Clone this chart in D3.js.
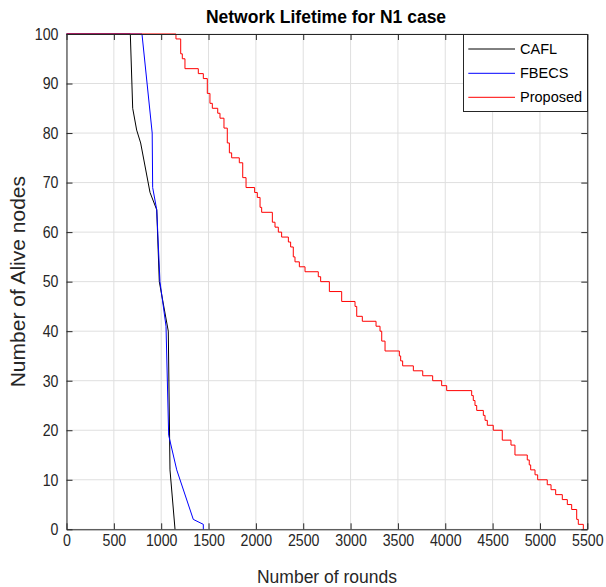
<!DOCTYPE html>
<html>
<head>
<meta charset="utf-8">
<script src="https://cdn.jsdelivr.net/npm/d3@7/dist/d3.min.js"></script>
<style>
  html, body { margin: 0; padding: 0; background: #fff; }
  svg { display: block; font-family: "Liberation Sans", Arial, Helvetica, sans-serif; }
</style>
</head>
<body>
<svg id="chart" width="606" height="587"></svg>
<script>
// ---- data ----
const seriesNames = ["CAFL", "FBECS", "Proposed"];
const seriesColors = ["#000000", "#0000ff", "#ff0000"];

// [round, alive nodes]
const caflData = [[0,100],[674,100],[699,85],[741,80.6],[783,78],[882,68],[953,64.5],[980,50],[1075,40],[1093,12],[1146,0]];
const fbecsData = [[0,100],[797,100],[905,80],[910,69],[953,64.5],[987,50],[1051,41],[1079,19],[1164,12],[1339,2],[1445,1],[1445,0]];
// staircase: value holds from this round until the next entry
const proposedData = [[0,100],[1156,99],[1206,96],[1223,95],[1251,93],[1392,92],[1445,91],[1487,88],[1515,86],[1540,85],[1597,84],[1621,83],[1663,81],[1698,78],[1720,76],[1744,75],[1825,74],[1861,71],[1896,69],[1987,68],[2015,67],[2044,65],[2061,64],[2174,62],[2202,61],[2237,60],[2272,59],[2343,58],[2367,57],[2395,55],[2413,54],[2459,53],[2519,52],[2659,51],[2684,50],[2776,48],[2906,46],[3047,45],[3065,43],[3124,42],[3269,41],[3311,40],[3329,38],[3364,36],[3515,35],[3529,34],[3550,33],[3663,32],[3762,31],[3867,30],[3962,29],[4015,28],[4279,27],[4296,26],[4314,25],[4332,24],[4402,23],[4420,22],[4444,21],[4507,20],[4602,18],[4694,17],[4736,15],[4866,14],[4887,13],[4902,12],[4948,11],[4976,10],[5077,9],[5117,8],[5166,7],[5236,6],[5289,5],[5335,4],[5388,2],[5405,1],[5458,0]];

const xTicks = [0,500,1000,1500,2000,2500,3000,3500,4000,4500,5000,5500];
const yTicks = [0,10,20,30,40,50,60,70,80,90,100];

const titleText = "Network Lifetime for N1 case";
const xLabelText = "Number of rounds";
const yLabelText = "Number of Alive nodes";

// ---- layout ----
const svg = d3.select("#chart");
const L = 66.5, R = 587.3, T = 34, B = 529.3;
const axisColor = "#262626";
const sx = 0.86; // horizontal squeeze of tick labels

const x = d3.scaleLinear().domain([0, 5500]).range([L, R]);
const y = d3.scaleLinear().domain([0, 100]).range([B, T]);

// grid
const grid = svg.append("g");
grid.selectAll("line.gx").data(xTicks).join("line")
  .attr("x1", d => x(d)).attr("x2", d => x(d)).attr("y1", T).attr("y2", B)
  .attr("stroke", "#dfdfdf").attr("stroke-width", 1);
grid.selectAll("line.gy").data(yTicks).join("line")
  .attr("y1", d => y(d)).attr("y2", d => y(d)).attr("x1", L).attr("x2", R)
  .attr("stroke", "#dfdfdf").attr("stroke-width", 1);

// series
const linear = d3.line().x(d => x(d[0])).y(d => y(d[1]));
const stepped = d3.line().x(d => x(d[0])).y(d => y(d[1])).curve(d3.curveStepAfter);
const lines = svg.append("g").attr("fill", "none");
lines.append("path").attr("d", linear(caflData)).attr("stroke", seriesColors[0]).attr("stroke-width", 1);
lines.append("path").attr("d", linear(fbecsData)).attr("stroke", seriesColors[1]).attr("stroke-width", 1);
lines.append("path").attr("d", stepped(proposedData)).attr("stroke", seriesColors[2]).attr("stroke-width", 1);

// axes (ticks inward, box)
const tickLen = 6;
function styleAxis(g) {
  g.selectAll(".domain").attr("stroke", axisColor);
  g.selectAll(".tick line").attr("stroke", axisColor);
  g.selectAll(".tick text").attr("fill", axisColor).attr("font-size", "16.5px");
}
const xAxis = svg.append("g").attr("transform", `translate(0,${B})`)
  .call(d3.axisBottom(x).tickValues(xTicks).tickSize(-tickLen).tickSizeOuter(0).tickPadding(5).tickFormat(d3.format("d")));
styleAxis(xAxis);
xAxis.selectAll(".tick text").attr("transform", `scale(${sx},1)`);
const xAxisTop = svg.append("g").attr("transform", `translate(0,${T})`)
  .call(d3.axisTop(x).tickValues(xTicks).tickSize(-tickLen).tickSizeOuter(0).tickFormat(""));
styleAxis(xAxisTop);
const yAxis = svg.append("g").attr("transform", `translate(${L},0)`)
  .call(d3.axisLeft(y).tickValues(yTicks).tickSize(-tickLen).tickSizeOuter(0).tickPadding(8).tickFormat(d3.format("d")));
styleAxis(yAxis);
yAxis.selectAll(".tick text").attr("x", -8 / sx).attr("transform", `scale(${sx},1)`);
const yAxisRight = svg.append("g").attr("transform", `translate(${R},0)`)
  .call(d3.axisRight(y).tickValues(yTicks).tickSize(-tickLen).tickSizeOuter(0).tickFormat(""));
styleAxis(yAxisRight);

// title & labels
svg.append("text").attr("x", 326).attr("y", 22.5).attr("text-anchor", "middle")
  .attr("font-weight", "bold").attr("font-size", "17.5px").attr("fill", "#000").text(titleText);
svg.append("text").attr("x", 327).attr("y", 583).attr("text-anchor", "middle")
  .attr("font-size", "17.5px").attr("fill", axisColor).text(xLabelText);
svg.append("text").attr("transform", `translate(25,${(T + B) / 2}) rotate(-90)`).attr("text-anchor", "middle")
  .attr("font-size", "21px").attr("fill", axisColor).text(yLabelText);

// legend
const lg = svg.append("g");
lg.append("rect").attr("x", 463.5).attr("y", 34.5).attr("width", 124).attr("height", 77)
  .attr("fill", "#fff").attr("stroke", axisColor).attr("stroke-width", 1);
const rowsY = [49, 73.3, 97.3];
seriesNames.forEach((name, i) => {
  lg.append("line").attr("x1", 468.3).attr("x2", 515).attr("y1", rowsY[i]).attr("y2", rowsY[i])
    .attr("stroke", seriesColors[i]).attr("stroke-width", 1);
  lg.append("text").attr("x", 520).attr("y", rowsY[i]).attr("dy", "0.35em")
    .attr("font-size", "14.5px").attr("fill", "#000").text(name);
});
</script>
</body>
</html>
